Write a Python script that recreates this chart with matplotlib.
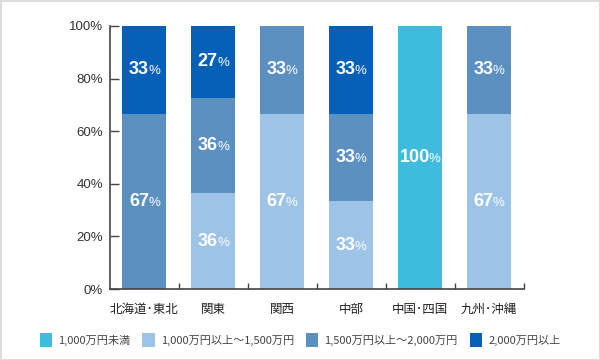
import matplotlib
matplotlib.use("Agg")
import matplotlib.pyplot as plt
from matplotlib.patches import Patch
from matplotlib.offsetbox import TextArea, HPacker, AnnotationBbox
import numpy as np

plt.rcParams['font.family'] = ['Noto Sans CJK JP', 'DejaVu Sans']

categories = ["北海道･東北", "関東", "関西", "中部", "中国･四国", "九州･沖縄"]
series_names = ["1,000万円未満", "1,000万円以上〜1,500万円", "1,500万円以上〜2,000万円", "2,000万円以上"]
s_lt1000 = [0, 0, 0, 0, 100, 0]
s_1000_1500 = [0, 36.4, 66.7, 33.3, 0, 66.7]
s_1500_2000 = [66.7, 36.3, 33.3, 33.3, 0, 33.3]
s_ge2000 = [33.3, 27.3, 0, 33.4, 0, 0]
series = [s_lt1000, s_1000_1500, s_1500_2000, s_ge2000]
colors = ["#3dbcdd", "#9dc3e6", "#5b90c1", "#0660b8"]
yticks = [0, 20, 40, 60, 80, 100]
ytick_labels = ["0%", "20%", "40%", "60%", "80%", "100%"]

fig = plt.figure(figsize=(6, 3.6), dpi=100, facecolor="white",
                 edgecolor="#dcdcdc", linewidth=2)
ax = fig.add_axes([110/600, 1-289/360, 413.5/600, 263/360])

x = np.arange(len(categories))
bottom = np.zeros(len(categories))
for vals, c in zip(series, colors):
    vals = np.array(vals, dtype=float)
    ax.bar(x, vals, bottom=bottom, width=44/69, color=c, linewidth=0)
    for xi, v, b in zip(x, vals, bottom):
        if v > 0:
            t1 = TextArea(f"{round(v):d}", textprops=dict(color="white", fontsize=13,
                          fontweight="bold", family="Liberation Sans"))
            t2 = TextArea("%", textprops=dict(color="white", fontsize=9.5,
                          family="Liberation Sans"))
            box = HPacker(children=[t1, t2], align="baseline", pad=0, sep=-0.6)
            ab = AnnotationBbox(box, (xi, b + v/2), frameon=False,
                                box_alignment=(0.5, 0.5), pad=0)
            ax.add_artist(ab)
    bottom += vals

ax.set_xlim(-0.5, len(categories) - 0.5)
ax.set_ylim(0, 100)
ax.set_yticks(yticks)
ax.set_yticklabels(ytick_labels, fontsize=9.5, color="#333333", family="Liberation Sans")
ax.set_xticks(x)
ax.set_xticklabels(categories, fontsize=9, color="#222222")
ax.set_xticks(np.arange(len(categories)) + 0.5, minor=True)
ax.tick_params(axis="x", which="major", length=0, pad=10)
ax.tick_params(axis="x", which="minor", direction="in", length=4.5, width=1, color="#444444")
ax.tick_params(axis="y", direction="in", length=6.5, width=1, color="#444444", pad=5)
for s in ["top", "right"]:
    ax.spines[s].set_visible(False)
for s in ["left", "bottom"]:
    ax.spines[s].set_color("#444444")
    ax.spines[s].set_linewidth(1.2)

handles = [Patch(facecolor=c, edgecolor="none") for c in colors]
fig.legend(handles, series_names, loc="center", bbox_to_anchor=(0.5, 1-340/360),
           ncol=4, frameon=False, fontsize=8, labelcolor="#444444",
           handlelength=1.1, handleheight=1.5, handletextpad=0.55, columnspacing=1.1)

fig.savefig("out.png", dpi=100, edgecolor=fig.get_edgecolor())
